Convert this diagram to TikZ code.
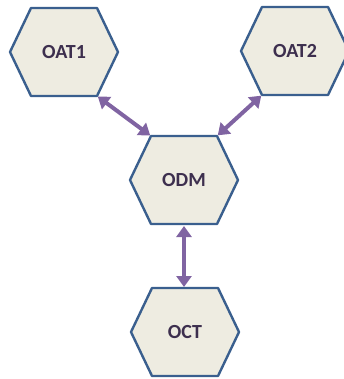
\documentclass[tikz,border=0pt]{standalone}
\usepackage{fontspec}
\setmainfont{Carlito}
\usetikzlibrary{arrows.meta}
\definecolor{hexfill}{HTML}{EEECE1}
\definecolor{hexline}{HTML}{3A5F8E}
\definecolor{linkcol}{HTML}{8064A2}
\definecolor{labelcol}{HTML}{3D2F4E}
\tikzset{
  hexborder/.style={draw=hexline, fill=hexfill, line width=2.4pt, line join=round},
  hexlabel/.style={text=labelcol, font=\bfseries\fontsize{20}{24}\selectfont, inner sep=0pt},
  link/.style={draw=linkcol, line width=4pt,
    {Triangle[length=11pt,width=15pt]}-{Triangle[length=11pt,width=15pt]}, shorten <=1pt, shorten >=1pt}
}
% hexagon with centre (#2,#3), half width 54, half height 44, flat top of half length 33
\newcommand{\hexbox}[4]{%
  \coordinate (#1-tl) at (#2-33,#3-44);
  \coordinate (#1-tr) at (#2+33,#3-44);
  \coordinate (#1-r)  at (#2+54,#3);
  \coordinate (#1-br) at (#2+33,#3+44);
  \coordinate (#1-bl) at (#2-33,#3+44);
  \coordinate (#1-l)  at (#2-54,#3);
  \path[hexborder] (#1-tl) -- (#1-tr) -- (#1-r) -- (#1-br) -- (#1-bl) -- (#1-l) -- cycle;
  \node[hexlabel] (#1) at (#2,#3) {#4};
}
\begin{document}
\begin{tikzpicture}[x=1pt,y=-1pt]
  \useasboundingbox (0,0) rectangle (344,379);
  \hexbox{oat1}{64}{52}{OAT1}
  \hexbox{oat2}{295}{51}{OAT2}
  \hexbox{odm}{184}{180}{ODM}
  \hexbox{oct}{185}{332}{OCT}
  \coordinate (odm-b) at (184,225);
  \coordinate (oct-t) at (184,288);
  \draw[link] (oat1-br) -- (odm-tl);
  \draw[link] (oat2-bl) -- (odm-tr);
  \draw[link] (odm-b) -- (oct-t);
\end{tikzpicture}
\end{document}
